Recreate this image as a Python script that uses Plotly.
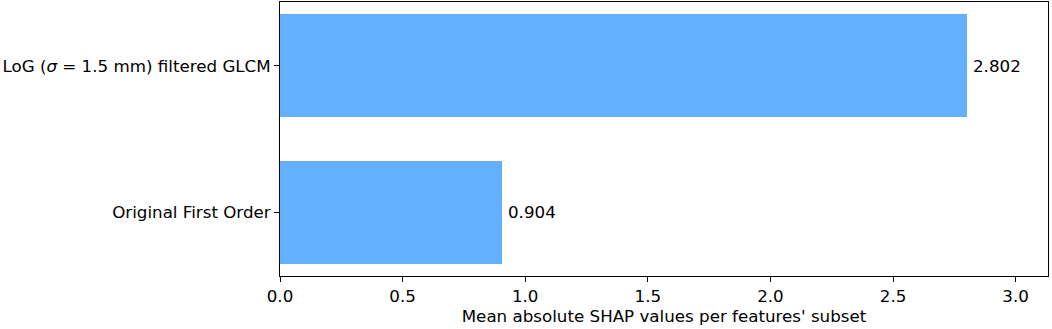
import plotly.graph_objects as go

categories = ["Original First Order", "LoG (<i>σ</i> = 1.5 mm) filtered GLCM"]
values = [0.904, 2.802]
value_labels = ["0.904", "2.802"]
tick_vals = [0.0, 0.5, 1.0, 1.5, 2.0, 2.5, 3.0]
tick_text = ["0.0", "0.5", "1.0", "1.5", "2.0", "2.5", "3.0"]

FONT = "DejaVu Sans"
FS = 16.7
BAR_COLOR = "#63b1fe"

fig = go.Figure()
fig.add_trace(go.Bar(
    x=values,
    y=[0, 1],
    orientation="h",
    width=0.7,
    marker=dict(color=BAR_COLOR, line=dict(width=0)),
    hoverinfo="skip",
))

for v, lab, yi in zip(values, value_labels, [0, 1]):
    fig.add_annotation(
        x=v, y=yi, text=lab, showarrow=False,
        xanchor="left", yanchor="middle", xshift=4,
        font=dict(family=FONT, size=FS, color="black"),
    )

fig.update_layout(
    width=1052, height=329,
    margin=dict(l=280, r=4, t=2, b=53, autoexpand=False),
    paper_bgcolor="white", plot_bgcolor="white",
    showlegend=False,
    font=dict(family=FONT, size=FS, color="black"),
    bargap=0,
)
fig.update_xaxes(
    range=[0, 3.132],
    tickvals=tick_vals, ticktext=tick_text,
    ticks="outside", ticklen=5, tickwidth=1, tickcolor="black",
    showline=True, linecolor="black", linewidth=1, mirror=True,
    showgrid=False, zeroline=False,
    tickfont=dict(family=FONT, size=FS, color="black"),
    title=dict(text="Mean absolute SHAP values per features' subset",
               font=dict(family=FONT, size=FS, color="black"), standoff=2),
)
fig.update_yaxes(
    range=[-0.435, 1.435],
    tickvals=[0, 1], ticktext=categories,
    ticks="outside", ticklen=5, tickwidth=1, tickcolor="black",
    showline=True, linecolor="black", linewidth=1, mirror=True,
    showgrid=False, zeroline=False,
    tickfont=dict(family=FONT, size=FS, color="black"),
)

fig.write_html(
    "out.html",
    config={"displayModeBar": False},
    post_script="document.body.style.margin='0';document.body.style.padding='0';",
)
